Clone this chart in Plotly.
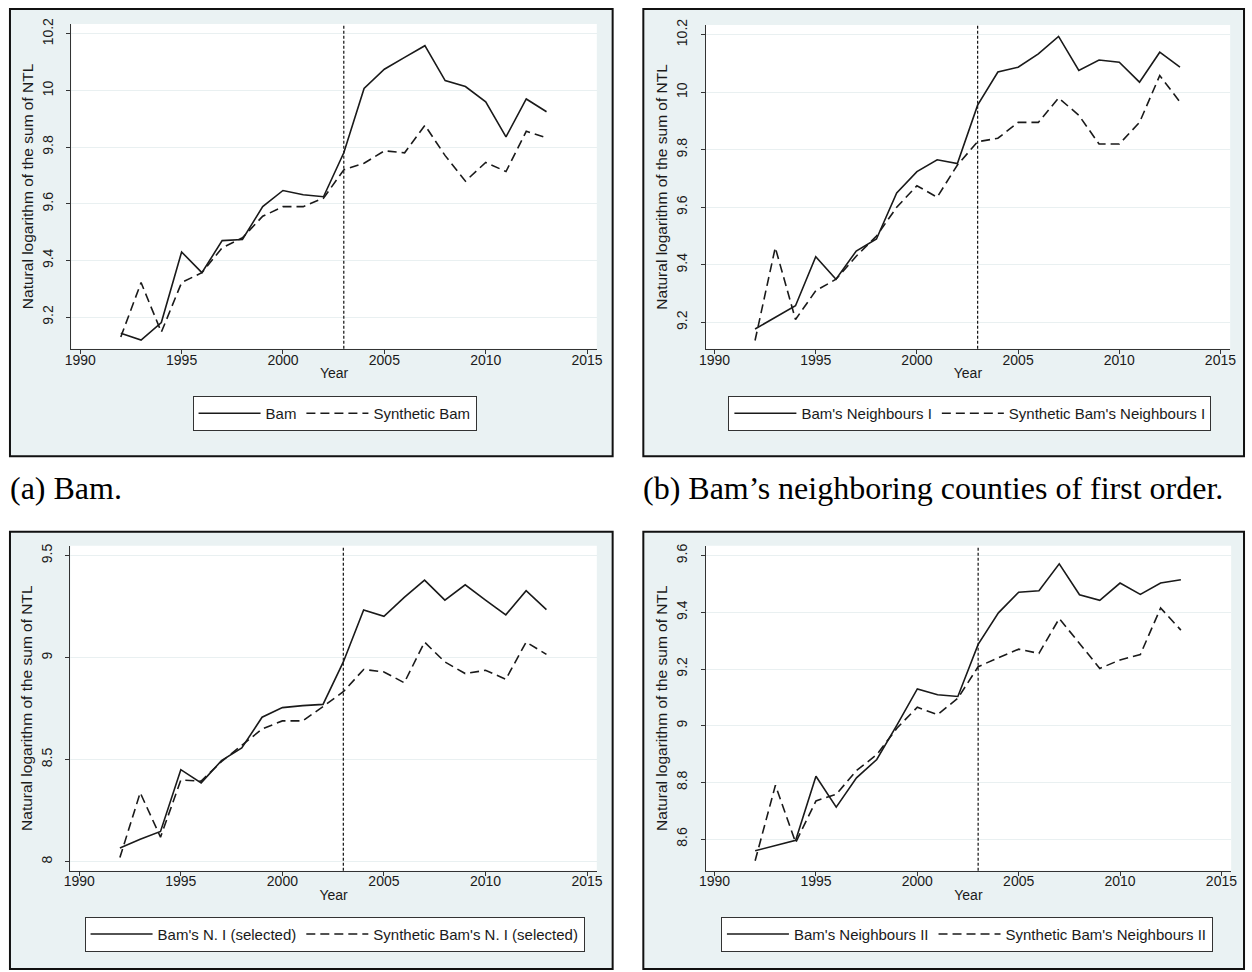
import plotly.graph_objects as go

# ---- data -------------------------------------------------------------
years = list(range(1992, 2014))
treatment_year = 2003

bam = [9.143, 9.119, 9.181, 9.430, 9.357, 9.470, 9.474, 9.590, 9.647, 9.632, 9.625,
       9.780, 10.007, 10.075, 10.117, 10.158, 10.035, 10.014, 9.960, 9.836, 9.970, 9.925]
synthetic_bam = [9.130, 9.322, 9.147, 9.322, 9.357, 9.445, 9.480, 9.556, 9.590, 9.590, 9.620,
                 9.720, 9.743, 9.787, 9.780, 9.877, 9.770, 9.680, 9.746, 9.714, 9.856, 9.833]

neigh1 = [9.177, 9.217, 9.258, 9.428, 9.350, 9.448, 9.490, 9.650, 9.724, 9.765, 9.752,
          9.955, 10.070, 10.087, 10.133, 10.194, 10.076, 10.112, 10.104, 10.035, 10.139, 10.087]
synthetic_neigh1 = [9.137, 9.460, 9.210, 9.310, 9.350, 9.430, 9.500, 9.600, 9.675, 9.635, 9.747,
                    9.828, 9.840, 9.895, 9.895, 9.980, 9.920, 9.820, 9.820, 9.895, 10.058, 9.966]

neigh1_sel = [8.067, 8.110, 8.148, 8.451, 8.386, 8.495, 8.557, 8.708, 8.755, 8.765, 8.771,
              8.979, 9.234, 9.203, 9.295, 9.380, 9.282, 9.357, 9.282, 9.210, 9.328, 9.235]
synthetic_neigh1_sel = [8.020, 8.338, 8.120, 8.400, 8.395, 8.490, 8.570, 8.650, 8.690, 8.690, 8.760,
                        8.833, 8.942, 8.930, 8.877, 9.076, 8.979, 8.922, 8.938, 8.894, 9.076, 9.016]

neigh2 = [8.559, 8.578, 8.596, 8.822, 8.713, 8.816, 8.881, 9.003, 9.130, 9.109, 9.103,
          9.287, 9.398, 9.471, 9.476, 9.571, 9.462, 9.442, 9.503, 9.463, 9.503, 9.515]
synthetic_neigh2 = [8.524, 8.790, 8.588, 8.735, 8.758, 8.842, 8.898, 8.992, 9.065, 9.039, 9.097,
                    9.208, 9.240, 9.270, 9.255, 9.378, 9.290, 9.202, 9.232, 9.251, 9.415, 9.337]

x_ticks = [1990, 1995, 2000, 2005, 2010, 2015]
y_ticks_a = [9.2, 9.4, 9.6, 9.8, 10.0, 10.2]
y_labels_a = ["9.2", "9.4", "9.6", "9.8", "10", "10.2"]
y_ticks_c = [8.0, 8.5, 9.0, 9.5]
y_labels_c = ["8", "8.5", "9", "9.5"]
y_ticks_d = [8.6, 8.8, 9.0, 9.2, 9.4, 9.6]
y_labels_d = ["8.6", "8.8", "9", "9.2", "9.4", "9.6"]

x_title = "Year"
y_title = "Natural logarithm of the sum of NTL"

# ---- page geometry (pixels) --------------------------------------------
W, H = 1252, 972
def px(x):
    return x / W
def py(y):
    return 1 - y / H

panels = [
    dict(actual=bam, synth=synthetic_bam,
         names=("Bam", "Synthetic Bam"),
         yticks=y_ticks_a, ylabels=y_labels_a, yrange=[9.088, 10.235],
         box=(3, 3, 612, 453), plot=(65, 18, 596, 345), legend_c=(331, 410)),
    dict(actual=neigh1, synth=synthetic_neigh1,
         names=("Bam's Neighbours I", "Synthetic Bam's Neighbours I"),
         yticks=y_ticks_a, ylabels=y_labels_a, yrange=[9.108, 10.234],
         box=(643, 3, 1250, 453), plot=(706, 19, 1236, 345), legend_c=(973, 410)),
    dict(actual=neigh1_sel, synth=synthetic_neigh1_sel,
         names=("Bam's N. I (selected)", "Synthetic Bam's N. I (selected)"),
         yticks=y_ticks_c, ylabels=y_labels_c, yrange=[7.956, 9.549],
         box=(3, 529, 612, 969), plot=(64, 543, 596, 870), legend_c=(331, 934)),
    dict(actual=neigh2, synth=synthetic_neigh2,
         names=("Bam's Neighbours II", "Synthetic Bam's Neighbours II"),
         yticks=y_ticks_d, ylabels=y_labels_d, yrange=[8.489, 9.635],
         box=(643, 529, 1250, 969), plot=(706, 543, 1237, 870), legend_c=(970, 934)),
]

captions = [
    ("(a) Bam.", 1, 485),
    ("(b) Bam\u2019s neighboring counties of first order.", 641, 485),
]

SANS = "Liberation Sans, Arial, sans-serif"
SERIF = "Liberation Serif, Times New Roman, serif"
INK = "#1a1a1a"
PANEL_BG = "#EAF2F3"
GRID = "#E9F0F1"

fig = go.Figure()
layout = dict(
    width=W, height=H,
    margin=dict(l=0, r=0, t=0, b=0),
    paper_bgcolor="white",
    plot_bgcolor="rgba(0,0,0,0)",
    font=dict(family=SANS, size=14, color=INK),
    shapes=[], annotations=[],
)

for i, p in enumerate(panels, start=1):
    sfx = "" if i == 1 else str(i)
    xa, ya = "x" + sfx, "y" + sfx
    leg = "legend" + sfx

    # outer panel frame
    bx0, by0, bx1, by1 = p["box"]
    layout["shapes"].append(dict(
        type="rect", xref="paper", yref="paper", layer="below",
        x0=px(bx0), x1=px(bx1), y0=py(by1), y1=py(by0),
        fillcolor=PANEL_BG, line=dict(color="#111111", width=2)))
    # white plot region
    layout["shapes"].append(dict(
        type="rect", xref=xa + " domain", yref=ya + " domain", layer="below",
        x0=0, x1=1, y0=0, y1=1, fillcolor="white", line=dict(width=0)))
    # treatment year marker
    layout["shapes"].append(dict(
        type="line", xref=xa, yref=ya + " domain", layer="above",
        x0=treatment_year, x1=treatment_year, y0=0, y1=1,
        line=dict(color="#111111", width=1.2, dash="3px,2px")))

    fig.add_trace(go.Scatter(
        x=years, y=p["actual"], mode="lines", name=p["names"][0],
        line=dict(color=INK, width=1.6), xaxis=xa, yaxis=ya, legend=leg))
    fig.add_trace(go.Scatter(
        x=years, y=p["synth"], mode="lines", name=p["names"][1],
        line=dict(color=INK, width=1.6, dash="9px,5px"), xaxis=xa, yaxis=ya, legend=leg))

    x0, y0, x1, y1 = p["plot"]
    layout["xaxis" + sfx] = dict(
        domain=[px(x0), px(x1)], anchor=ya, range=[1989.56, 2015.48],
        tickvals=x_ticks, ticks="outside", ticklen=4, tickwidth=1, tickcolor="#333",
        ticklabelstandoff=-6,
        showline=True, linecolor="#333", linewidth=1, showgrid=False, zeroline=False,
        tickfont=dict(size=14, color=INK),
        title=dict(text=x_title, font=dict(size=14, color=INK), standoff=1))
    layout["yaxis" + sfx] = dict(
        domain=[py(y1), py(y0)], anchor=xa, range=p["yrange"],
        tickvals=p["yticks"], ticktext=p["ylabels"], tickangle=-90,
        ticks="outside", ticklen=4, tickwidth=1, tickcolor="#333",
        ticklabelstandoff=8,
        showline=True, linecolor="#333", linewidth=1,
        showgrid=True, gridcolor=GRID, gridwidth=1, zeroline=False,
        tickfont=dict(size=14, color=INK),
        title=dict(text=y_title, font=dict(size=15.5, color=INK), standoff=2))

    lx, ly = p["legend_c"]
    layout[leg] = dict(
        x=px(lx), y=py(ly), xanchor="center", yanchor="middle",
        orientation="h", bgcolor="white", bordercolor="#333", borderwidth=1,
        font=dict(size=15, color=INK, family=SANS), itemwidth=62,
        traceorder="normal")

for text, cx, cy in captions:
    layout["annotations"].append(dict(
        text=text, xref="paper", yref="paper", x=px(cx), y=py(cy),
        xanchor="left", yanchor="middle", showarrow=False,
        font=dict(family=SERIF, size=32, color="black")))

fig.update_layout(**layout)
fig.write_html("out.html")
